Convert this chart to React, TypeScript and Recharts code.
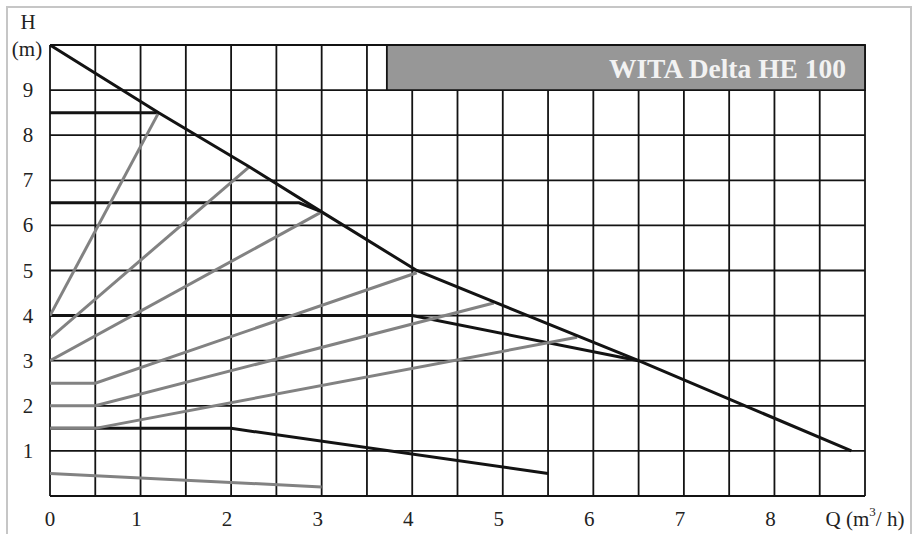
import React from 'react';
import { LineChart, Line, XAxis, YAxis, CartesianGrid, ReferenceArea } from 'recharts';

// Flow axis (m³/h): a grid line every 0.5, labels on whole numbers
const flowTicks = [0, 0.5, 1, 1.5, 2, 2.5, 3, 3.5, 4, 4.5, 5, 5.5, 6, 6.5, 7, 7.5, 8, 8.5, 9];
// Head axis (m)
const headTicks = [0, 1, 2, 3, 4, 5, 6, 7, 8, 9, 10];

// Maximum head curve
const maxCurve = [
  { q: 0, h: 10 },
  { q: 1.2, h: 8.5 },
  { q: 2.2, h: 7.3 },
  { q: 3.0, h: 6.3 },
  { q: 4.05, h: 5.0 },
  { q: 6.5, h: 3.0 },
  { q: 8.85, h: 1.0 },
];

// Constant-pressure settings (dark lines)
const constant85 = [
  { q: 0, h: 8.5 },
  { q: 1.2, h: 8.5 },
];
const constant65 = [
  { q: 0, h: 6.5 },
  { q: 2.75, h: 6.5 },
  { q: 3.0, h: 6.3 },
];
const constant40 = [
  { q: 0, h: 4 },
  { q: 4.0, h: 4 },
  { q: 6.5, h: 3 },
];
const constant15 = [
  { q: 0, h: 1.5 },
  { q: 2.0, h: 1.5 },
  { q: 5.5, h: 0.5 },
];

// Proportional-pressure settings (grey lines)
const proportional1 = [
  { q: 0, h: 4 },
  { q: 1.2, h: 8.5 },
];
const proportional2 = [
  { q: 0, h: 3.5 },
  { q: 2.2, h: 7.3 },
];
const proportional3 = [
  { q: 0, h: 3 },
  { q: 3.0, h: 6.3 },
];
const proportional4 = [
  { q: 0, h: 2.5 },
  { q: 0.5, h: 2.5 },
  { q: 4.05, h: 4.95 },
];
const proportional5 = [
  { q: 0, h: 2 },
  { q: 0.5, h: 2 },
  { q: 4.9, h: 4.28 },
];
const proportional6 = [
  { q: 0, h: 1.5 },
  { q: 0.5, h: 1.5 },
  { q: 5.82, h: 3.52 },
];
const proportional7 = [
  { q: 0, h: 0.5 },
  { q: 3.0, h: 0.2 },
];

const constantSeries = [constant85, constant65, constant40, constant15];
const proportionalSeries = [
  proportional1,
  proportional2,
  proportional3,
  proportional4,
  proportional5,
  proportional6,
  proportional7,
];

const title = 'WITA Delta HE 100';
const titleBox = { q1: 3.72, q2: 9, h1: 9, h2: 10 };

const SERIF = "'Liberation Serif', 'Times New Roman', serif";
const TEXT = '#222';
const DARK = '#131313';
const GREY = '#828282';
const FONT = 21;

const FlowTick = (props: any) => {
  const { x, y, payload } = props;
  const v = payload.value;
  if (v === 9) {
    return (
      <text x={x} y={y + 23} textAnchor="middle" dominantBaseline="central" fontFamily={SERIF} fontSize={FONT} fill={TEXT}>
        Q (m
        <tspan dy={-8} fontSize={13}>3</tspan>
        <tspan dy={8}>/ h)</tspan>
      </text>
    );
  }
  if (!Number.isInteger(v)) return null;
  return (
    <text x={x} y={y + 23} dx={v === 0 ? 0 : -4} textAnchor="middle" dominantBaseline="central" fontFamily={SERIF} fontSize={FONT} fill={TEXT}>
      {v}
    </text>
  );
};

const HeadTick = (props: any) => {
  const { x, y, payload } = props;
  const v = payload.value;
  if (v === 0) return null;
  if (v === 10) {
    return (
      <g>
        <text x={x - 22} y={y - 23} textAnchor="middle" dominantBaseline="central" fontFamily={SERIF} fontSize={FONT} fill={TEXT}>
          H
        </text>
        <text x={x - 23} y={y + 4} textAnchor="middle" dominantBaseline="central" fontFamily={SERIF} fontSize={FONT} fill={TEXT}>
          (m)
        </text>
      </g>
    );
  }
  return (
    <text x={x - 22} y={y} textAnchor="middle" dominantBaseline="central" fontFamily={SERIF} fontSize={FONT} fill={TEXT}>
      {v}
    </text>
  );
};

const TitleLabel = (props: any) => {
  const vb = props.viewBox;
  return (
    <text
      x={vb.x + vb.width - 19}
      y={vb.y + vb.height / 2 + 1}
      textAnchor="end"
      dominantBaseline="central"
      fontFamily={SERIF}
      fontWeight="bold"
      fontSize={27.5}
      fill="#f2f2f2"
    >
      {title}
    </text>
  );
};

export default function App() {
  return (
    <div style={{ position: 'absolute', left: 0, top: 0, width: 912, height: 534, overflow: 'hidden', background: '#fff' }}>
      <div
        style={{
          position: 'absolute',
          left: 6,
          top: 6,
          width: 902,
          height: 560,
          border: '2px solid #c6c6c6',
        }}
      />
      <div style={{ position: 'absolute', left: 0, top: 0 }}>
        <LineChart width={912} height={534} margin={{ top: 45, right: 47, left: 0, bottom: 0 }}>
          <CartesianGrid stroke={DARK} strokeWidth={1.8} />
          <XAxis
            type="number"
            dataKey="q"
            domain={[0, 9]}
            ticks={flowTicks}
            interval={0}
            height={38}
            axisLine={false}
            tickLine={false}
            tickSize={0}
            tickMargin={0}
            tick={<FlowTick />}
            allowDataOverflow
          />
          <YAxis
            type="number"
            dataKey="h"
            domain={[0, 10]}
            ticks={headTicks}
            interval={0}
            width={50}
            axisLine={false}
            tickLine={false}
            tickSize={0}
            tickMargin={0}
            tick={<HeadTick />}
            allowDataOverflow
          />
          <ReferenceArea
            x1={titleBox.q1}
            x2={titleBox.q2}
            y1={titleBox.h1}
            y2={titleBox.h2}
            fill="#979797"
            fillOpacity={1}
            stroke={DARK}
            strokeWidth={1.8}
            label={<TitleLabel />}
          />
          {constantSeries.map((d, i) => (
            <Line
              key={`c${i}`}
              data={d}
              dataKey="h"
              type="linear"
              stroke={DARK}
              strokeWidth={3}
              dot={false}
              activeDot={false}
              isAnimationActive={false}
            />
          ))}
          {proportionalSeries.map((d, i) => (
            <Line
              key={`p${i}`}
              data={d}
              dataKey="h"
              type="linear"
              stroke={GREY}
              strokeWidth={3}
              dot={false}
              activeDot={false}
              isAnimationActive={false}
            />
          ))}
          <Line
            data={maxCurve}
            dataKey="h"
            type="linear"
            stroke={DARK}
            strokeWidth={3}
            dot={false}
            activeDot={false}
            isAnimationActive={false}
          />
        </LineChart>
      </div>
    </div>
  );
}
